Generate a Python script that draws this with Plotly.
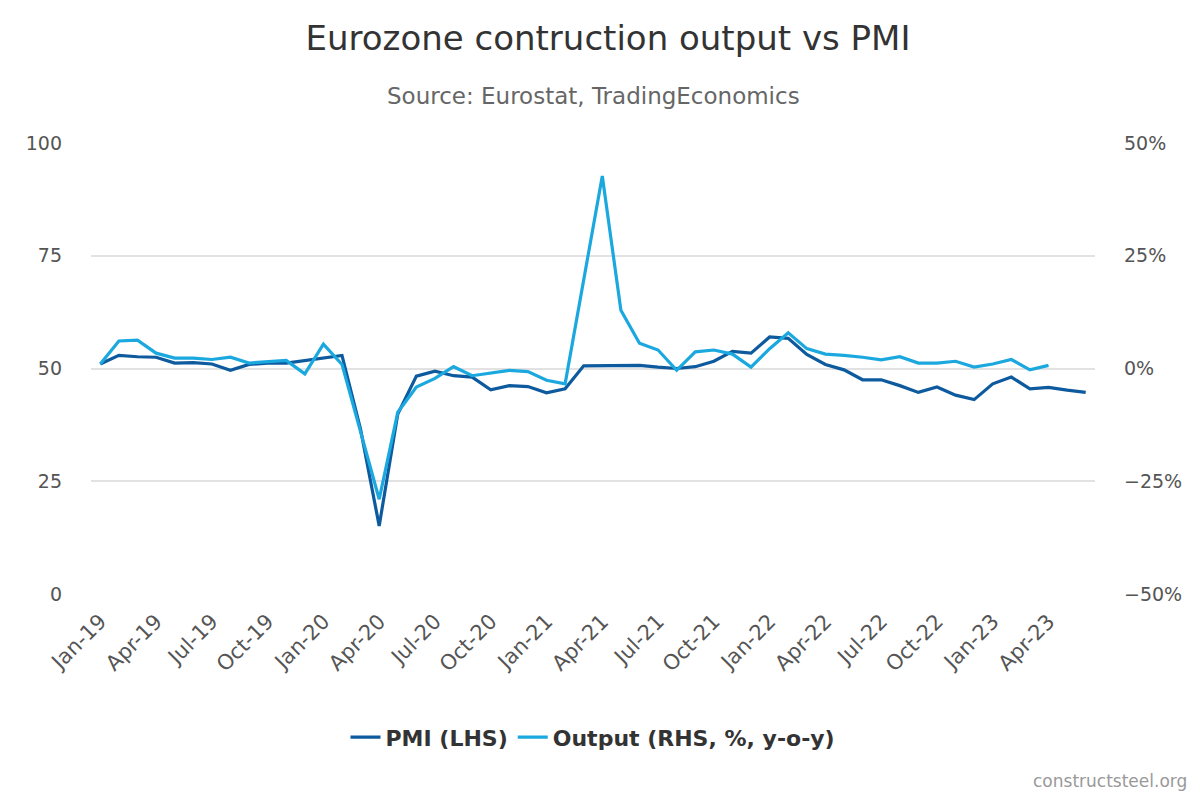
import pandas as pd
import plotly.graph_objects as go

# monthly labels Jan-19 .. Jun-23
months = pd.date_range('2019-01-01', '2023-06-01', freq='MS').strftime('%b-%y').tolist()

pmi = [51.0, 52.9, 52.6, 52.5, 51.2, 51.3, 51.0, 49.6, 50.9, 51.2, 51.2, 51.8,
       52.3, 52.9, 36.5, 15.1, 39.9, 48.3, 49.4, 48.4, 48.1, 45.3, 46.2, 46.0,
       44.6, 45.5, 50.6, 50.6, 50.7, 50.7, 50.3, 50.0, 50.4, 51.6, 53.8, 53.4,
       57.0, 56.7, 53.1, 50.9, 49.7, 47.5, 47.5, 46.2, 44.7, 45.9, 44.1, 43.1,
       46.6, 48.1, 45.5, 45.8, 45.2, 44.7]

output = [1.0, 6.1, 6.3, 3.4, 2.3, 2.3, 2.0, 2.5, 1.2, 1.5, 1.8, -1.2,
          5.4, 0.9, -14.0, -29.0, -9.7, -4.1, -2.2, 0.4, -1.6, -1.0, -0.4, -0.7,
          -2.6, -3.4, 20.0, 42.7, 12.9, 5.6, 4.1, -0.4, 3.7, 4.1, 3.2, 0.3,
          4.4, 7.9, 4.4, 3.2, 2.9, 2.5, 1.9, 2.6, 1.2, 1.2, 1.6, 0.3,
          1.0, 2.0, -0.3, 0.7]

tick_labels = months[::3]
rhs_ticks = [-50, -25, 0, 25, 50]
rhs_text = [f'{v}%'.replace('-', '\u2212') for v in rhs_ticks]

pmi_color = '#0d5a9e'
output_color = '#1ba8df'
font_name = 'DejaVu Sans'

fig = go.Figure()

fig.add_trace(go.Scatter(
    x=months, y=pmi, mode='lines', name='PMI (LHS)',
    line=dict(color=pmi_color, width=3.2)
))

fig.add_trace(go.Scatter(
    x=months[:len(output)], y=output, mode='lines', name='Output (RHS, %, y-o-y)',
    line=dict(color=output_color, width=3.2), yaxis='y2'
))

fig.update_layout(
    width=1200, height=800,
    paper_bgcolor='white', plot_bgcolor='white',
    font=dict(family=font_name, color='#555555'),
    margin=dict(l=83, r=113, t=135, b=214),
    title=dict(text='Eurozone contruction output vs PMI', x=0.5, xanchor='center',
               y=0.963, yanchor='middle',
               font=dict(size=34, color='#333333', family=font_name)),
    xaxis=dict(
        type='category', categoryorder='array', categoryarray=months,
        range=[-0.5, len(months) - 0.5],
        tickmode='array', tickvals=tick_labels, ticktext=tick_labels,
        tickangle=-45, tickfont=dict(size=21, color='#555555'),
        showgrid=False, zeroline=False, showline=False, ticks='',
        ticklabelstandoff=10
    ),
    yaxis=dict(
        range=[0, 100], tickvals=[0, 25, 50, 75, 100],
        tickfont=dict(size=19, color='#555555'),
        gridcolor='#e2e2e2', gridwidth=1.5, zeroline=False, ticklabelstandoff=28
    ),
    yaxis2=dict(
        range=[-50, 50], tickmode='array', tickvals=rhs_ticks, ticktext=rhs_text,
        overlaying='y', side='right', showgrid=False, zeroline=False,
        tickfont=dict(size=19, color='#555555'), ticklabelstandoff=28
    ),
    legend=dict(orientation='h', x=0.5, xanchor='center', y=-0.318, yanchor='middle',
                font=dict(size=22, color='#333333', family=font_name, weight='bold'),
                itemwidth=30, tracegroupgap=0),
    showlegend=True
)

fig.add_annotation(text='Source: Eurostat, TradingEconomics', xref='paper', yref='paper',
                   x=0.5, y=1.0, yshift=47, xanchor='center', yanchor='middle',
                   showarrow=False, font=dict(size=23, color='#666666'))

fig.add_annotation(text='constructsteel.org', xref='paper', yref='paper',
                   x=1.0, y=0, xshift=94, yshift=-187, xanchor='right', yanchor='middle',
                   showarrow=False, font=dict(size=17, color='#999999'))

fig.write_html('out.html')
